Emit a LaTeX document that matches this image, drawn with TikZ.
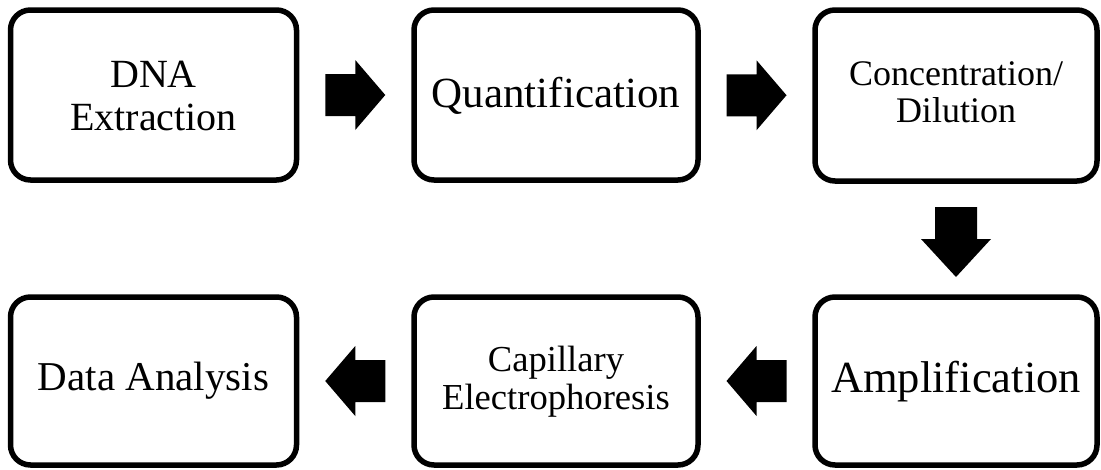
\documentclass[tikz,border=0pt]{standalone}
\usepackage{fontspec}
\setmainfont{Liberation Serif}
\usetikzlibrary{calc}
\newcommand\boxtext[4]{\raisebox{#1}[\height][\depth]{\fontsize{#2}{#3}\selectfont\begin{tabular}{@{}c@{}}#4\end{tabular}}}
\tikzset{
  stepbox/.style={draw, line width=5.5pt, rounded corners=20pt, inner sep=0pt, align=center},
  pics/blockarrow/.style args={#1/#2}{code={
    \fill (-#1,-21) -- (0,-21) -- (0,-35) -- (#2,0) -- (0,35) -- (0,21) -- (-#1,21) -- cycle;}}
}
\begin{document}
\begin{tikzpicture}[x=1pt,y=-1pt]
\useasboundingbox (0,0) rectangle (1101,469);
\node[stepbox, minimum width=286pt, minimum height=170pt] (b1) at (153.5,95) {\boxtext{-5pt}{40}{43}{DNA\\Extraction}};
\node[stepbox, minimum width=284pt, minimum height=170pt] (b2) at (556,95) {\boxtext{-3pt}{43}{46}{Quantification}};
\node[stepbox, minimum width=282pt, minimum height=171pt] (b3) at (956,95.5) {\boxtext{-1.5pt}{36}{37}{Concentration/\\Dilution}};
\node[stepbox, minimum width=282pt, minimum height=168pt] (b4) at (956,381) {\boxtext{-2pt}{44.5}{48}{Amplification}};
\node[stepbox, minimum width=284pt, minimum height=168pt] (b5) at (556,381) {\boxtext{-1.5pt}{36.6}{38}{Capillary\\Electrophoresis}};
\node[stepbox, minimum width=286pt, minimum height=168pt] (b6) at (153.5,381) {\boxtext{-1pt}{41}{44}{Data Analysis}};
\pic at ($(b1.east)!0.5!(b2.west)$) {blockarrow={30/30}};
\pic at ($(b2.east)!0.5!(b3.west)$) {blockarrow={30/30}};
\pic[rotate=-90] at ($(b3.south)!0.5!(b4.north)$) {blockarrow={32/38}};
\pic[rotate=180] at ($(b4.west)!0.5!(b5.east)$) {blockarrow={30/30}};
\pic[rotate=180] at ($(b5.west)!0.5!(b6.east)$) {blockarrow={30/30}};
\end{tikzpicture}
\end{document}
